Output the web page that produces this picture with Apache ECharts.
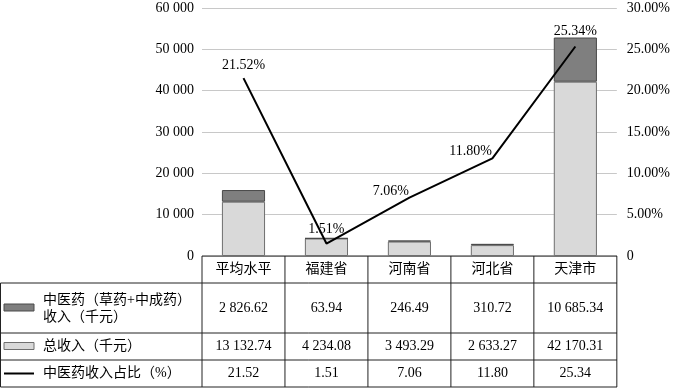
<!DOCTYPE html>
<html><head><meta charset="utf-8">
<script src="https://cdn.jsdelivr.net/npm/echarts@6/dist/echarts.min.js"></script>
<style>html,body{margin:0;padding:0;background:#fff}#c{width:673px;height:388px}</style>
</head><body><div id="c"></div>
<script>
const categories = ['平均水平','福建省','河南省','河北省','天津市'];
const tcmIncome = [2826.62, 63.94, 246.49, 310.72, 10685.34];
const totalIncome = [13132.74, 4234.08, 3493.29, 2633.27, 42170.31];
const tcmRatio = [21.52, 1.51, 7.06, 11.80, 25.34];
const leftTicks = [0, 10000, 20000, 30000, 40000, 50000, 60000];
const rightTicks = [0, 5, 10, 15, 20, 25, 30];
const seriesNames = ['中医药（草药+中成药）\n收入（千元）', '总收入（千元）', '中医药收入占比（%）'];

const FONT = "'Liberation Serif','Noto Sans CJK SC',serif";
function fmt(v){
  const s = v.toFixed(2); const [i,d] = s.split('.');
  return i.replace(/\B(?=(\d{3})+(?!\d))/g,' ') + '.' + d;
}
function fmtInt(v){ return String(v).replace(/\B(?=(\d{3})+(?!\d))/g,' '); }

const G = {left:202, right:56, top:8, bottom:132};
const chart = echarts.init(document.getElementById('c'), null, {renderer:'canvas'});
const labelPos = [
  {position:'top', distance:5},
  {position:'top', distance:7},
  {position:'left', offset:[5,-6]},
  {position:'left', offset:[5,-7]},
  {position:'top', distance:8}
];
chart.setOption({
  animation:false,
  textStyle:{fontFamily:FONT},
  grid:{left:G.left, right:G.right, top:G.top, bottom:G.bottom},
  xAxis:{type:'category', data:categories, axisLine:{show:false}, axisTick:{show:false}, axisLabel:{show:false}},
  yAxis:[
    {type:'value', min:leftTicks[0], max:leftTicks[leftTicks.length-1], interval:leftTicks[1]-leftTicks[0],
     axisLine:{show:false}, axisTick:{show:false},
     axisLabel:{color:'#000', fontSize:14, fontFamily:FONT, margin:8, formatter:v=>fmtInt(v)},
     splitLine:{lineStyle:{color:'#c8c8c8', width:1}}},
    {type:'value', min:rightTicks[0]/100, max:rightTicks[rightTicks.length-1]/100, interval:(rightTicks[1]-rightTicks[0])/100,
     axisLine:{show:false}, axisTick:{show:false}, splitLine:{show:false},
     axisLabel:{color:'#000', fontSize:14, fontFamily:FONT, margin:10, formatter:v=> v===0?'0':(v*100).toFixed(2)+'%'}}
  ],
  series:[
    {name:seriesNames[1], type:'bar', stack:'s', barWidth:'52%', data:totalIncome,
     itemStyle:{color:'#d9d9d9', borderColor:'#6f6f6f', borderWidth:1}},
    {name:seriesNames[0], type:'bar', stack:'s', barWidth:'52%', data:tcmIncome,
     itemStyle:{color:'#7f7f7f', borderColor:'#4a4a4a', borderWidth:1}},
    {name:seriesNames[2], type:'line', yAxisIndex:1, symbol:'circle', symbolSize:1, showSymbol:true,
     itemStyle:{color:'rgba(0,0,0,0)'},
     data:tcmRatio.map((v,i)=>({value:v/100, label:labelPos[i]})),
     lineStyle:{color:'#000', width:2},
     label:{show:true, color:'#000', fontSize:14, fontFamily:FONT, formatter:p=>tcmRatio[p.dataIndex].toFixed(2)+'%'}}
  ]
});

// Data table drawn below the plot, aligned with the category axis
const W = 673;
const x0 = G.left, x1 = W - G.right, yTop = 388 - G.bottom;
const centers = categories.map((c,i)=>chart.convertToPixel({xAxisIndex:0}, i));
const band = centers.length>1 ? centers[1]-centers[0] : (x1-x0);
const rows = [yTop, yTop+27, yTop+77, yTop+104, yTop+131];
const lineStyle = {stroke:'#222', lineWidth:1};
const els = [];
function L(xa,ya,xb,yb){ els.push({type:'line', shape:{x1:xa,y1:ya,x2:xb,y2:yb}, style:lineStyle, silent:true}); }
L(x0,rows[0],x1,rows[0]);
for(let r=1;r<rows.length;r++) L(0.5,rows[r],x1,rows[r]);
L(0.5,rows[1],0.5,rows[4]);
for(let i=0;i<=categories.length;i++){ const x = x0 + i*band; L(x,rows[0],x,rows[4]); }
function T(x,y,text,align){ els.push({type:'text', x:x, y:y, style:{text:text, fill:'#000', font:'14px '+FONT, textAlign:align||'center', textVerticalAlign:'middle'}, silent:true}); }
const rowMid = r => (rows[r]+rows[r+1])/2;
centers.forEach((cx,i)=>{
  T(cx,rowMid(0),categories[i]);
  T(cx,rowMid(1),fmt(tcmIncome[i]));
  T(cx,rowMid(2),fmt(totalIncome[i]));
  T(cx,rowMid(3),tcmRatio[i].toFixed(2));
});
// legend keys
els.push({type:'rect', shape:{x:4,y:rowMid(1)-4,width:30,height:7}, style:{fill:'#7f7f7f', stroke:'#4a4a4a', lineWidth:1}});
els.push({type:'rect', shape:{x:4,y:rowMid(2)-4,width:30,height:7}, style:{fill:'#d9d9d9', stroke:'#6f6f6f', lineWidth:1}});
els.push({type:'line', shape:{x1:4,y1:rowMid(3),x2:34,y2:rowMid(3)}, style:{stroke:'#000', lineWidth:2}});
const nm0 = seriesNames[0].split('\n');
T(43,rowMid(1)-8,nm0[0],'left');
T(43,rowMid(1)+9,nm0[1],'left');
T(43,rowMid(2),seriesNames[1],'left');
T(43,rowMid(3),seriesNames[2],'left');
chart.setOption({graphic:{elements:els}});
</script></body></html>
